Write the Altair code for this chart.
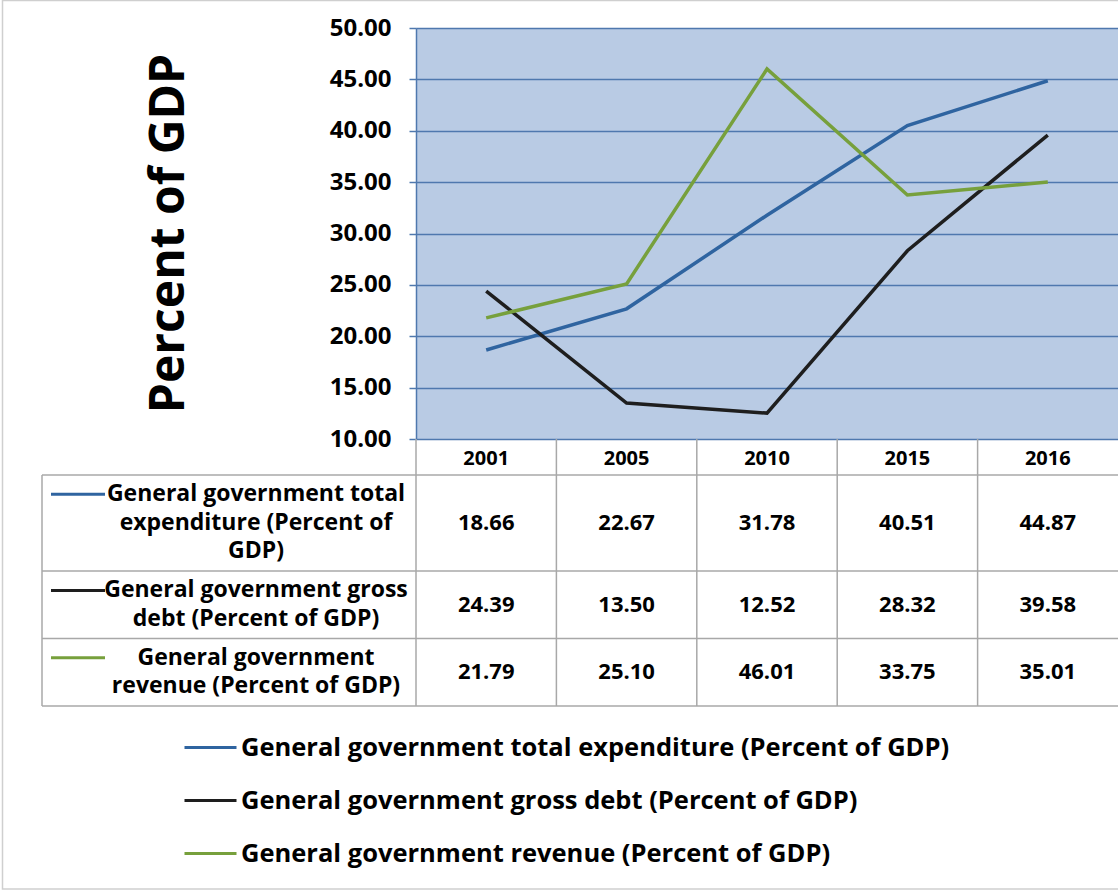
import altair as alt
import pandas as pd

# ---------------- data ----------------
YEARS = ["2001", "2005", "2010", "2015", "2016"]
SERIES = [
    "General government total expenditure (Percent of GDP)",
    "General government gross debt (Percent of GDP)",
    "General government revenue (Percent of GDP)",
]
ROW_LABELS = [
    "General government total\nexpenditure (Percent of\nGDP)",
    "General government gross\ndebt (Percent of GDP)",
    "General government\nrevenue (Percent of GDP)",
]
EXPENDITURE = [18.66, 22.67, 31.78, 40.51, 44.87]
GROSS_DEBT = [24.39, 13.50, 12.52, 28.32, 39.58]
REVENUE = [21.79, 25.10, 46.01, 33.75, 35.01]
Y_TICKS = [10, 15, 20, 25, 30, 35, 40, 45, 50]
Y_TITLE = "Percent of GDP"

# ---------------- styles / layout ----------------
COLORS = ["#2F64A0", "#1E1E1E", "#77A03C"]
GRID = "#4F78AE"
TABLE_LINE = "#A8A8A8"
PLOT_BG = "#B9CBE4"
FONT = "Open Sans"
W, H = 702, 411
PAD = {"left": 416, "top": 28, "right": 0, "bottom": 453}
LINE_PX = 28.7          # pixels per text line in the table
HEADER_U = 1.25         # header row height, in text lines
ROW_PAD_U = 0.35        # extra height per row, in text lines
LABEL_X = -160
KEY_X0, KEY_X1 = -365, -311
TABLE_LEFT = -374

# ---------------- tables built from the arrays ----------------
values = [EXPENDITURE, GROSS_DEBT, REVENUE]
long = pd.DataFrame(
    [{"series": s, "year": y, "value": v}
     for s, vals in zip(SERIES, values) for y, v in zip(YEARS, vals)]
)

n_lines = [lab.count("\n") + 1 for lab in ROW_LABELS]
tops, acc = [], 0.0
for n in n_lines:
    tops.append(acc)
    acc += n + ROW_PAD_U
TOTAL_U = acc
rows = pd.DataFrame({
    "series": SERIES,
    "label": ROW_LABELS,
    "mid": [t + (n + ROW_PAD_U) / 2 for t, n in zip(tops, n_lines)],
    "first": [t + ROW_PAD_U / 2 + 0.5 for t in tops],
})
cells = long.merge(rows[["series", "mid"]], on="series")
header = pd.DataFrame({"year": YEARS, "mid": [-HEADER_U / 2] * len(YEARS)})
hlines = pd.DataFrame({"u": tops + [TOTAL_U]})
vlines = pd.DataFrame({"year": YEARS, "u0": [-HEADER_U] * len(YEARS),
                       "u1": [TOTAL_U] * len(YEARS)})
left_edge = pd.DataFrame({"u0": [0.0], "u1": [TOTAL_U]})

# ---------------- encodings ----------------
color = alt.Color(
    "series:N",
    scale=alt.Scale(domain=SERIES, range=COLORS),
    legend=alt.Legend(
        orient="none", legendX=-233, legendY=692, direction="vertical",
        title=None, symbolType="stroke", symbolSize=2704, symbolStrokeWidth=3,
        labelFont=FONT, labelFontSize=25.5, labelFontWeight="bold",
        labelColor="black", labelOffset=3, rowPadding=12, padding=0,
        labelLimit=1000,
    ),
)

lines = alt.Chart(long).mark_line(strokeWidth=3.5).encode(
    x=alt.X("year:O", sort=YEARS,
            scale=alt.Scale(type="point", padding=0.5), axis=None),
    y=alt.Y(
        "value:Q",
        scale=alt.Scale(domain=[10, 50], nice=False, zero=False),
        axis=alt.Axis(
            values=Y_TICKS, format=".2f", title=Y_TITLE,
            titleFont=FONT, titleFontSize=48, titleFontWeight="bold",
            titleColor="black", titleAngle=270, titleX=-233, titleY=205,
            titleAlign="center", titleBaseline="alphabetic",
            labelFont=FONT, labelFontSize=24, labelFontWeight="bold",
            labelColor="black", labelPadding=18, labelFlush=False,
            labelOverlap=False,
            tickSize=7, tickColor=GRID, tickWidth=1.5,
            domainColor=GRID, domainWidth=1.5,
            gridColor=GRID, gridWidth=1.5, gridOpacity=1,
        ),
    ),
    color=color,
)

tx = alt.X("year:O", sort=YEARS,
           scale=alt.Scale(type="band", paddingInner=0, paddingOuter=0),
           axis=None)
ty_scale = alt.Scale(domain=[-HEADER_U, TOTAL_U],
                     range=[H, H + (HEADER_U + TOTAL_U) * LINE_PX],
                     nice=False, zero=False)

value_text = alt.Chart(cells).mark_text(
    font=FONT, fontSize=22, fontWeight="bold", color="black",
    align="center", baseline="middle",
).encode(
    x=tx,
    y=alt.Y("mid:Q", scale=ty_scale, axis=None),
    text=alt.Text("value:Q", format=".2f"),
)

header_text = alt.Chart(header).mark_text(
    font=FONT, fontSize=20, fontWeight="bold", color="black",
    align="center", baseline="middle", dy=2,
).encode(
    x=tx,
    y=alt.Y("mid:Q", scale=ty_scale, axis=None),
    text="year:N",
)

row_text = alt.Chart(rows).mark_text(
    font=FONT, fontSize=23, fontWeight="bold", color="black",
    align="center", baseline="middle", lineBreak="\n", lineHeight=28.5,
).encode(
    x=alt.value(LABEL_X),
    y=alt.Y("first:Q", scale=ty_scale, axis=None),
    text="label:N",
)

row_keys = alt.Chart(rows).mark_rule(strokeWidth=3).encode(
    x=alt.value(KEY_X0), x2=alt.value(KEY_X1),
    y=alt.Y("first:Q", scale=ty_scale, axis=None),
    color=color,
)

h_rules = alt.Chart(hlines).mark_rule(color=TABLE_LINE, strokeWidth=1.5).encode(
    x=alt.value(TABLE_LEFT), x2=alt.value(W),
    y=alt.Y("u:Q", scale=ty_scale, axis=None),
)

v_rules = alt.Chart(vlines).mark_rule(color=TABLE_LINE, strokeWidth=1.5).encode(
    x=alt.X("year:O", sort=YEARS, bandPosition=0,
            scale=alt.Scale(type="band", paddingInner=0, paddingOuter=0),
            axis=None),
    y=alt.Y("u0:Q", scale=ty_scale, axis=None),
    y2="u1:Q",
)

left_rule = alt.Chart(left_edge).mark_rule(color=TABLE_LINE, strokeWidth=1.5).encode(
    x=alt.value(TABLE_LEFT),
    y=alt.Y("u0:Q", scale=ty_scale, axis=None),
    y2="u1:Q",
)

table = alt.layer(h_rules, v_rules, left_rule, row_keys, row_text,
                  header_text, value_text)

border = alt.Chart(pd.DataFrame({"k": [0]})).mark_rect(
    fillOpacity=0, stroke="#CFCFCF", strokeWidth=1.5,
).encode(
    x=alt.value(-413.5), x2=alt.value(W + 5),
    y=alt.value(-27.5), y2=alt.value(861),
)

chart = alt.layer(lines, table, border).resolve_scale(
    x="independent", y="independent"
).properties(
    width=W, height=H, padding=PAD,
    autosize=alt.AutoSizeParams(type="none"),
    background="white",
).configure_view(fill=PLOT_BG, strokeWidth=0)

chart.save("out.html", embed_options={"renderer": "svg", "actions": False})
